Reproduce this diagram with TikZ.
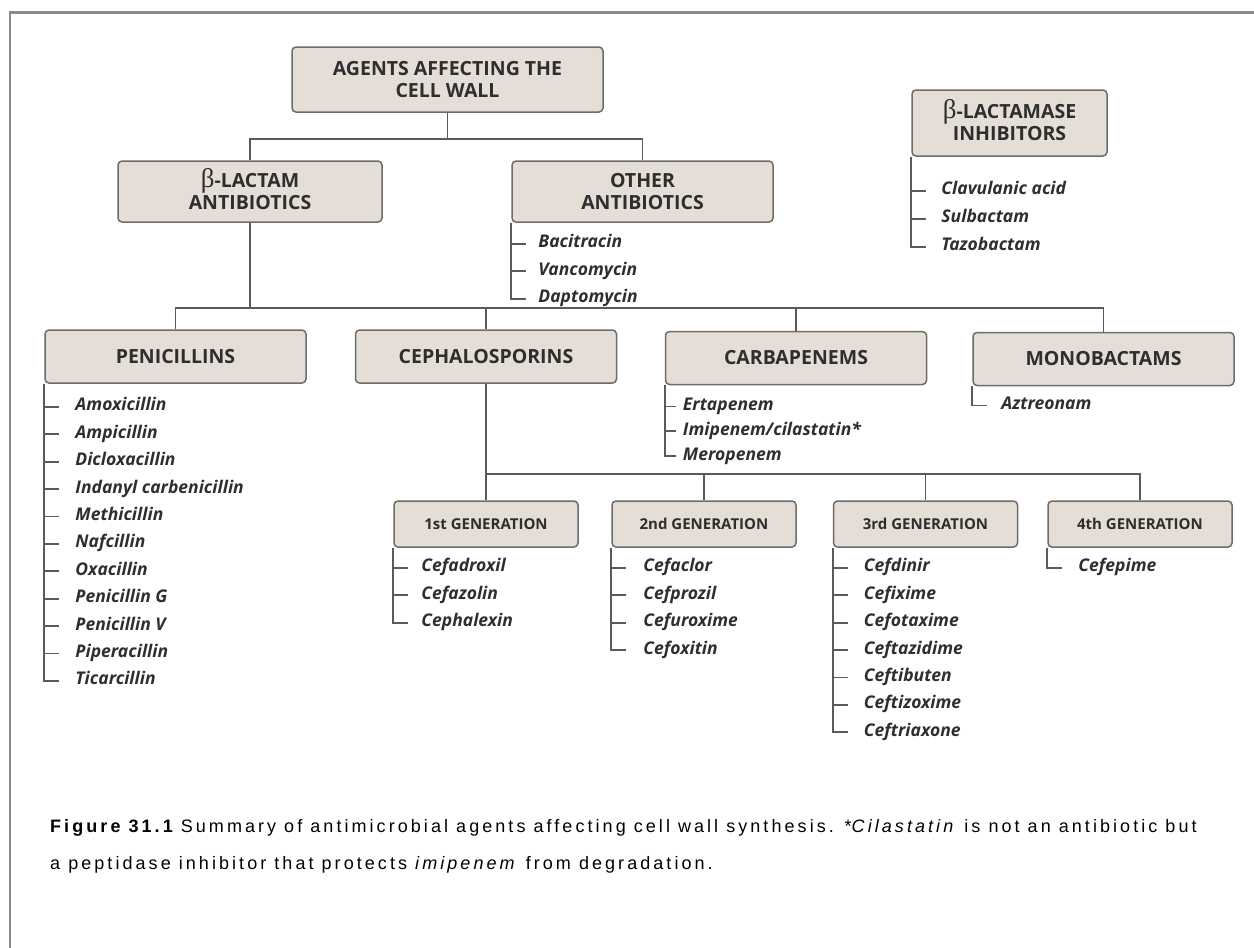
\documentclass[tikz,border=0pt]{standalone}
\usepackage{fontspec}
\setmainfont{Open Sans}
\newfontfamily\capfont[LetterSpace=17]{Liberation Sans}
\newfontfamily\betafont{Liberation Serif}
\usepackage{xcolor}
\usetikzlibrary{positioning}
\definecolor{boxfill}{HTML}{E5DED7}
\definecolor{boxedge}{HTML}{6E6B68}
\definecolor{linegray}{HTML}{5A5A5A}
\definecolor{inkgray}{HTML}{2E2E2E}
\definecolor{framegray}{HTML}{8A8A8A}
\newcommand{\betaglyph}{\smash{\betafont\fontsize{27}{27}\selectfont\mdseries β}}

\begin{document}
\begin{tikzpicture}[
    x=1pt, y=-1pt,
    box/.style={draw=boxedge, fill=boxfill, rounded corners=4pt, line width=1.5pt, inner sep=0pt, align=center, text=inkgray, font=\fontsize{19.5}{22}\selectfont\bfseries},
    classbox/.style={box, minimum width=261pt, minimum height=53pt},
    genbox/.style={box, minimum width=184pt, minimum height=46pt, font=\fontsize{15}{17}\selectfont\bfseries},
    drug/.style={inner sep=0pt, text height=12pt, text depth=4pt, text=inkgray, font=\fontsize{17.5}{17.5}\selectfont\bfseries\itshape},
    link/.style={draw=linegray, line width=1.8pt},
    caption/.style={inner sep=0pt, align=left, text=black, font=\capfont\fontsize{18}{37}\selectfont}
  ]
    \useasboundingbox (0,0) rectangle (1254,948);
    \draw[framegray, line width=2.5pt] (10,948) -- (10,12.5) -- (1254,12.5);

    % top of the tree
    \node[box, minimum width=311pt, minimum height=65pt] (wall) at (447.5,79.5) {AGENTS AFFECTING THE\\CELL WALL};
    \node[box, minimum width=264pt, minimum height=61pt] (betalac) at (250,191.5) {\betaglyph-LACTAM\\ANTIBIOTICS};
    \node[box, minimum width=261pt, minimum height=61pt] (other) at (642.5,191.5) {OTHER\\ANTIBIOTICS};
    \node[box, minimum width=195pt, minimum height=66pt] (inhib) at (1009.5,123) {\betaglyph-LACTAMASE\\INHIBITORS};

    % drug classes
    \node[classbox] (pen) at (175.5,356.5) {PENICILLINS};
    \node[classbox] (ceph) at (486,356.5) {CEPHALOSPORINS};
    \node[classbox] (carb) at (796,358) {CARBAPENEMS};
    \node[classbox] (mono) at (1103.5,359) {MONOBACTAMS};

    % generations
    \node[genbox] (gen1) at (486,524) {1st GENERATION};
    \node[genbox] (gen2) at (704,524) {2nd GENERATION};
    \node[genbox] (gen3) at (925.5,524) {3rd GENERATION};
    \node[genbox] (gen4) at (1140,524) {4th GENERATION};

    \coordinate (wallsplit) at (447.5,139);
    \coordinate (classsplit) at (250,308);
    \coordinate (gensplit) at (486,474);
    \draw[link] (wall.south) -- (wallsplit) -| (betalac.north);
    \draw[link] (wallsplit) -| (other.north);
    \draw[link] (betalac.south) -- (classsplit) -| (pen.north);
    \draw[link] (classsplit) -| (ceph.north);
    \draw[link] (classsplit) -| (carb.north);
    \draw[link] (classsplit) -| (mono.north);
    \draw[link] (ceph.south) -- (gensplit) -- (gen1.north);
    \draw[link] (gensplit) -| (gen2.north);
    \draw[link] (gensplit) -| (gen3.north);
    \draw[link] (gensplit) -| (gen4.north);

    % other antibiotics
    \node[drug, below right=13pt and 27pt of other.south west] (oth1) {Bacitracin};
    \node[drug, below right=11pt and 0pt of oth1.south west] (oth2) {Vancomycin};
    \node[drug, below right=11pt and 0pt of oth2.south west] (oth3) {Daptomycin};
    \draw[link] (other.south west) -- (other.south west |- oth3) -- ++(15,0)
      (other.south west |- oth1) -- ++(15,0) (other.south west |- oth2) -- ++(15,0);

    % beta-lactamase inhibitors
    \node[drug, below right=26pt and 30pt of inhib.south west] (inh1) {Clavulanic acid};
    \node[drug, below right=11.5pt and 0pt of inh1.south west] (inh2) {Sulbactam};
    \node[drug, below right=11.5pt and 0pt of inh2.south west] (inh3) {Tazobactam};
    \draw[link] (inhib.south west) -- (inhib.south west |- inh3) -- ++(15,0)
      (inhib.south west |- inh1) -- ++(15,0) (inhib.south west |- inh2) -- ++(15,0);

    % penicillins
    \node[drug, below right=15pt and 31pt of pen.south west] (pen1) {Amoxicillin};
    \node[drug, below right=11pt and 0pt of pen1.south west] (pen2) {Ampicillin};
    \node[drug, below right=11pt and 0pt of pen2.south west] (pen3) {Dicloxacillin};
    \node[drug, below right=11pt and 0pt of pen3.south west] (pen4) {Indanyl carbenicillin};
    \node[drug, below right=11pt and 0pt of pen4.south west] (pen5) {Methicillin};
    \node[drug, below right=11pt and 0pt of pen5.south west] (pen6) {Nafcillin};
    \node[drug, below right=11pt and 0pt of pen6.south west] (pen7) {Oxacillin};
    \node[drug, below right=11pt and 0pt of pen7.south west] (pen8) {Penicillin G};
    \node[drug, below right=11pt and 0pt of pen8.south west] (pen9) {Penicillin V};
    \node[drug, below right=11pt and 0pt of pen9.south west] (pen10) {Piperacillin};
    \node[drug, below right=11pt and 0pt of pen10.south west] (pen11) {Ticarcillin};
    \draw[link] (pen.south west) -- (pen.south west |- pen11) -- ++(15,0)
      (pen.south west |- pen1) -- ++(15,0) (pen.south west |- pen2) -- ++(15,0)
      (pen.south west |- pen3) -- ++(15,0) (pen.south west |- pen4) -- ++(15,0)
      (pen.south west |- pen5) -- ++(15,0) (pen.south west |- pen6) -- ++(15,0)
      (pen.south west |- pen7) -- ++(15,0) (pen.south west |- pen8) -- ++(15,0)
      (pen.south west |- pen9) -- ++(15,0) (pen.south west |- pen10) -- ++(15,0);

    % carbapenems
    \node[drug, below right=13pt and 18pt of carb.south west] (carb1) {Ertapenem};
    \node[drug, below right=8.5pt and 0pt of carb1.south west] (carb2) {Imipenem/cilastatin*};
    \node[drug, below right=8.5pt and 0pt of carb2.south west] (carb3) {Meropenem};
    \draw[link] (carb.south west) -- (carb.south west |- carb3) -- ++(11,0)
      (carb.south west |- carb1) -- ++(11,0) (carb.south west |- carb2) -- ++(11,0);

    % monobactams
    \node[drug, below right=11pt and 29pt of mono.south west] (mono1) {Aztreonam};
    \draw[link] (mono.south west) -- (mono.south west |- mono1) -- ++(15,0);

    % 1st generation
    \node[drug, below right=12pt and 28pt of gen1.south west] (g1a) {Cefadroxil};
    \node[drug, below right=11pt and 0pt of g1a.south west] (g1b) {Cefazolin};
    \node[drug, below right=11pt and 0pt of g1b.south west] (g1c) {Cephalexin};
    \draw[link] (gen1.south west) -- (gen1.south west |- g1c) -- ++(15,0)
      (gen1.south west |- g1a) -- ++(15,0) (gen1.south west |- g1b) -- ++(15,0);

    % 2nd generation
    \node[drug, below right=12pt and 32pt of gen2.south west] (g2a) {Cefaclor};
    \node[drug, below right=11pt and 0pt of g2a.south west] (g2b) {Cefprozil};
    \node[drug, below right=11pt and 0pt of g2b.south west] (g2c) {Cefuroxime};
    \node[drug, below right=11pt and 0pt of g2c.south west] (g2d) {Cefoxitin};
    \draw[link] (gen2.south west) -- (gen2.south west |- g2d) -- ++(15,0)
      (gen2.south west |- g2a) -- ++(15,0) (gen2.south west |- g2b) -- ++(15,0)
      (gen2.south west |- g2c) -- ++(15,0);

    % 3rd generation
    \node[drug, below right=12pt and 31pt of gen3.south west] (g3a) {Cefdinir};
    \node[drug, below right=11pt and 0pt of g3a.south west] (g3b) {Cefixime};
    \node[drug, below right=11pt and 0pt of g3b.south west] (g3c) {Cefotaxime};
    \node[drug, below right=11pt and 0pt of g3c.south west] (g3d) {Ceftazidime};
    \node[drug, below right=11pt and 0pt of g3d.south west] (g3e) {Ceftibuten};
    \node[drug, below right=11pt and 0pt of g3e.south west] (g3f) {Ceftizoxime};
    \node[drug, below right=11pt and 0pt of g3f.south west] (g3g) {Ceftriaxone};
    \draw[link] (gen3.south west) -- (gen3.south west |- g3g) -- ++(15,0)
      (gen3.south west |- g3a) -- ++(15,0) (gen3.south west |- g3b) -- ++(15,0)
      (gen3.south west |- g3c) -- ++(15,0) (gen3.south west |- g3d) -- ++(15,0)
      (gen3.south west |- g3e) -- ++(15,0) (gen3.south west |- g3f) -- ++(15,0);

    % 4th generation
    \node[drug, below right=12pt and 31pt of gen4.south west] (g4a) {Cefepime};
    \draw[link] (gen4.south west) -- (gen4.south west |- g4a) -- ++(15,0);

    % caption
    \node[caption, anchor=north west] (legend) at (50,819.5) {{\bfseries Figure 31.1} Summary of antimicrobial agents affecting cell wall synthesis. *\textit{Cilastatin} is not an antibiotic but\\a peptidase inhibitor that protects \textit{imipenem} from degradation.};
\end{tikzpicture}
\end{document}
